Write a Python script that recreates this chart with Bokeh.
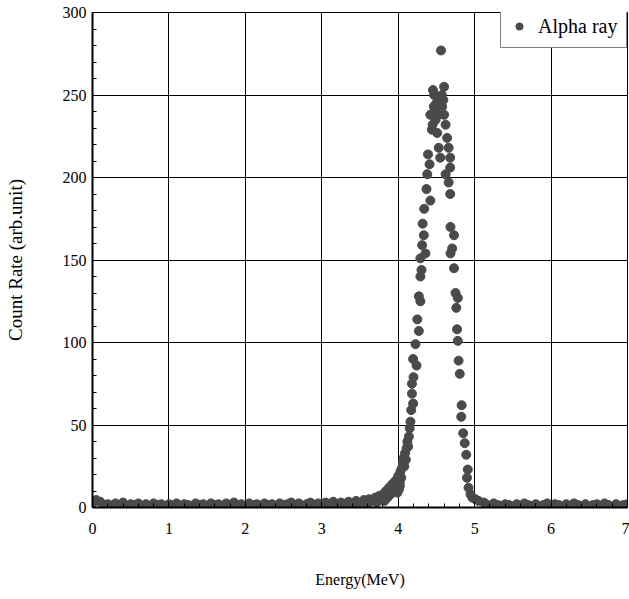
from bokeh.plotting import figure
from bokeh.models import ColumnDataSource, SingleIntervalTicker, Range1d, Legend, LegendItem
from bokeh.embed import file_html
from bokeh.resources import INLINE

# background, low-energy side (MeV, counts)
bg_low_x = [0.00, 0.05, 0.10, 0.15, 0.20, 0.25, 0.30, 0.35, 0.40, 0.45,
            0.50, 0.55, 0.60, 0.65, 0.70, 0.75, 0.80, 0.85, 0.90, 0.95,
            1.00, 1.05, 1.10, 1.15, 1.20, 1.25, 1.30, 1.35, 1.40, 1.45,
            1.50, 1.55, 1.60, 1.65, 1.70, 1.75, 1.80, 1.85, 1.90, 1.95,
            2.00, 2.05, 2.10, 2.15, 2.20, 2.25, 2.30, 2.35, 2.40, 2.45,
            2.50, 2.55, 2.60, 2.65, 2.70, 2.75, 2.80, 2.85, 2.90, 2.95,
            3.00, 3.05, 3.10, 3.15, 3.20, 3.25, 3.30, 3.35, 3.40, 3.45,
            3.50, 3.55, 3.60]
bg_low_y = [2.5, 4.5, 3.5, 1.5, 2.0, 1.0, 2.5, 1.5, 3.0, 1.0,
            2.0, 1.5, 2.5, 1.0, 2.0, 0.5, 2.5, 1.5, 2.0, 1.0,
            2.0, 1.5, 2.5, 1.0, 2.0, 1.5, 1.0, 2.5, 1.5, 2.0,
            1.0, 2.5, 1.5, 2.0, 1.0, 2.5, 1.5, 3.0, 1.5, 2.0,
            1.0, 2.5, 1.5, 2.0, 1.0, 2.5, 1.5, 2.0, 1.0, 2.5,
            1.5, 2.0, 3.0, 1.5, 2.5, 1.0, 2.0, 3.0, 1.5, 2.5,
            1.5, 3.0, 2.0, 3.5, 1.5, 3.0, 2.0, 3.5, 2.0, 4.0,
            2.5, 4.5, 2.0]

# alpha peak region
peak_x = [3.62, 3.66, 3.70, 3.72, 3.75, 3.78, 3.80, 3.82, 3.84, 3.86,
          3.88, 3.90, 3.92, 3.94, 3.96, 3.98, 4.00, 4.02, 4.03, 4.05,
          4.06, 4.07, 4.09, 4.11, 4.12, 4.14, 4.15, 4.16, 4.17, 4.195,
          4.18, 4.18, 4.20, 4.24, 4.195, 4.226, 4.27, 4.25, 4.29, 4.27,
          4.29, 4.305, 4.29, 4.357, 4.313, 4.335, 4.32, 4.34, 4.37, 4.42,
          4.38, 4.41, 4.39, 4.44, 4.42, 4.49, 4.465, 4.455, 4.51, 4.51,
          4.53, 4.55, 4.56, 4.575, 4.60, 4.62, 4.64, 4.66, 4.68, 4.68,
          4.62, 4.66, 4.68, 4.47, 4.50, 4.48, 4.57, 4.59, 4.52, 4.45,
          4.60, 4.684, 4.73, 4.706, 4.684, 4.73, 4.75, 4.78, 4.76, 4.77,
          4.78, 4.79, 4.805, 4.83, 4.825, 4.85, 4.87, 4.89, 4.91, 4.90,
          4.92, 4.946, 4.97, 5.01, 5.05, 5.12,
          4.01, 4.04, 4.08, 4.10, 4.13, 3.99, 4.02]
peak_y = [5, 4, 6, 3, 7, 5, 8, 4, 10, 6,
          12, 8, 14, 10, 16, 12, 19, 15, 22, 24,
          27, 30, 33, 36, 40, 43, 48, 52, 59, 63,
          69, 75, 79, 86, 90, 99, 107, 114, 125, 128,
          140, 144, 151, 154, 159, 165, 172, 181, 193, 186,
          202, 208, 214, 229, 238, 235, 243, 253, 249, 227,
          218, 212, 277, 243, 255, 232, 224, 218, 212, 206,
          202, 197, 190, 250, 245, 240, 250, 247, 238, 232,
          238, 170, 165, 157, 154, 145, 130, 127, 121, 108,
          101, 89, 81, 62, 55, 45, 39, 32, 23, 18,
          12, 8, 6, 5, 4, 3,
          11, 18, 25, 29, 37, 9, 13]

# background, high-energy side
bg_high_x = [5.15, 5.20, 5.25, 5.30, 5.35, 5.40, 5.45, 5.50, 5.55, 5.60,
             5.65, 5.70, 5.75, 5.80, 5.85, 5.90, 5.95, 6.00, 6.05, 6.10,
             6.15, 6.20, 6.25, 6.30, 6.35, 6.40, 6.45, 6.50, 6.55, 6.60,
             6.65, 6.70, 6.75, 6.80, 6.85, 6.90, 6.95, 7.00]
bg_high_y = [2.0, 1.0, 2.5, 1.5, 1.0, 2.0, 1.5, 0.5, 2.0, 1.0,
             2.5, 1.5, 1.0, 2.0, 0.5, 1.5, 2.5, 1.0, 2.0, 1.5,
             0.5, 2.0, 1.0, 2.5, 1.5, 1.0, 2.0, 0.5, 1.5, 2.0,
             1.0, 2.5, 1.5, 0.5, 2.0, 1.0, 1.5, 2.0]

assert len(bg_low_x) == len(bg_low_y)
assert len(peak_x) == len(peak_y)
assert len(bg_high_x) == len(bg_high_y)

energy = bg_low_x + peak_x + bg_high_x
counts = bg_low_y + peak_y + bg_high_y
src = ColumnDataSource(dict(x=energy, y=counts))

FONT = "Liberation Serif"

p = figure(width=629, height=595, output_backend="svg", toolbar_location=None,
           x_range=Range1d(0, 7), y_range=Range1d(0, 300),
           min_border_left=92, min_border_right=2, min_border_top=12, min_border_bottom=88)
p.background_fill_color = "white"
p.border_fill_color = "white"
p.outline_line_color = "black"
p.outline_line_width = 1

r = p.scatter("x", "y", source=src, size=9, marker="circle",
              fill_color="#4a4a4a", line_color="#4a4a4a")

p.xaxis.ticker = SingleIntervalTicker(interval=1, num_minor_ticks=5)
p.yaxis.ticker = SingleIntervalTicker(interval=50, num_minor_ticks=5)

for ax in (p.xaxis[0], p.yaxis[0]):
    ax.axis_line_color = "black"
    ax.axis_line_width = 2
    ax.major_tick_in = 6
    ax.major_tick_out = 0
    ax.minor_tick_in = 4
    ax.minor_tick_out = 0
    ax.major_tick_line_color = "black"
    ax.minor_tick_line_color = "black"
    ax.major_label_text_font = FONT
    ax.major_label_text_font_size = "16px"
    ax.major_label_text_color = "black"
    ax.axis_label_text_font = FONT
    ax.axis_label_text_font_style = "normal"
    ax.axis_label_text_color = "black"

p.xaxis.axis_label = "Energy(MeV)"
p.yaxis.axis_label = "Count Rate (arb.unit)"
p.xaxis.axis_label_text_font_size = "16px"
p.yaxis.axis_label_text_font_size = "19px"
p.xaxis.major_label_standoff = 15
p.xaxis.axis_label_standoff = 34
p.yaxis.major_label_standoff = 6
p.yaxis.axis_label_standoff = 34

p.xgrid.grid_line_color = "black"
p.ygrid.grid_line_color = "black"
p.xgrid.grid_line_width = 1
p.ygrid.grid_line_width = 1

legend = Legend(items=[LegendItem(label="Alpha ray", renderers=[r])],
                location=(408, 459))
legend.label_text_font = FONT
legend.label_text_font_size = "20px"
legend.label_text_color = "black"
legend.border_line_color = "black"
legend.border_line_width = 1
legend.background_fill_alpha = 1
legend.padding = 9
legend.margin = 0
legend.glyph_width = 18
legend.glyph_height = 24
legend.label_height = 24
legend.label_standoff = 10
p.add_layout(legend, "center")

open("out.html", "w").write(file_html(p, INLINE))
